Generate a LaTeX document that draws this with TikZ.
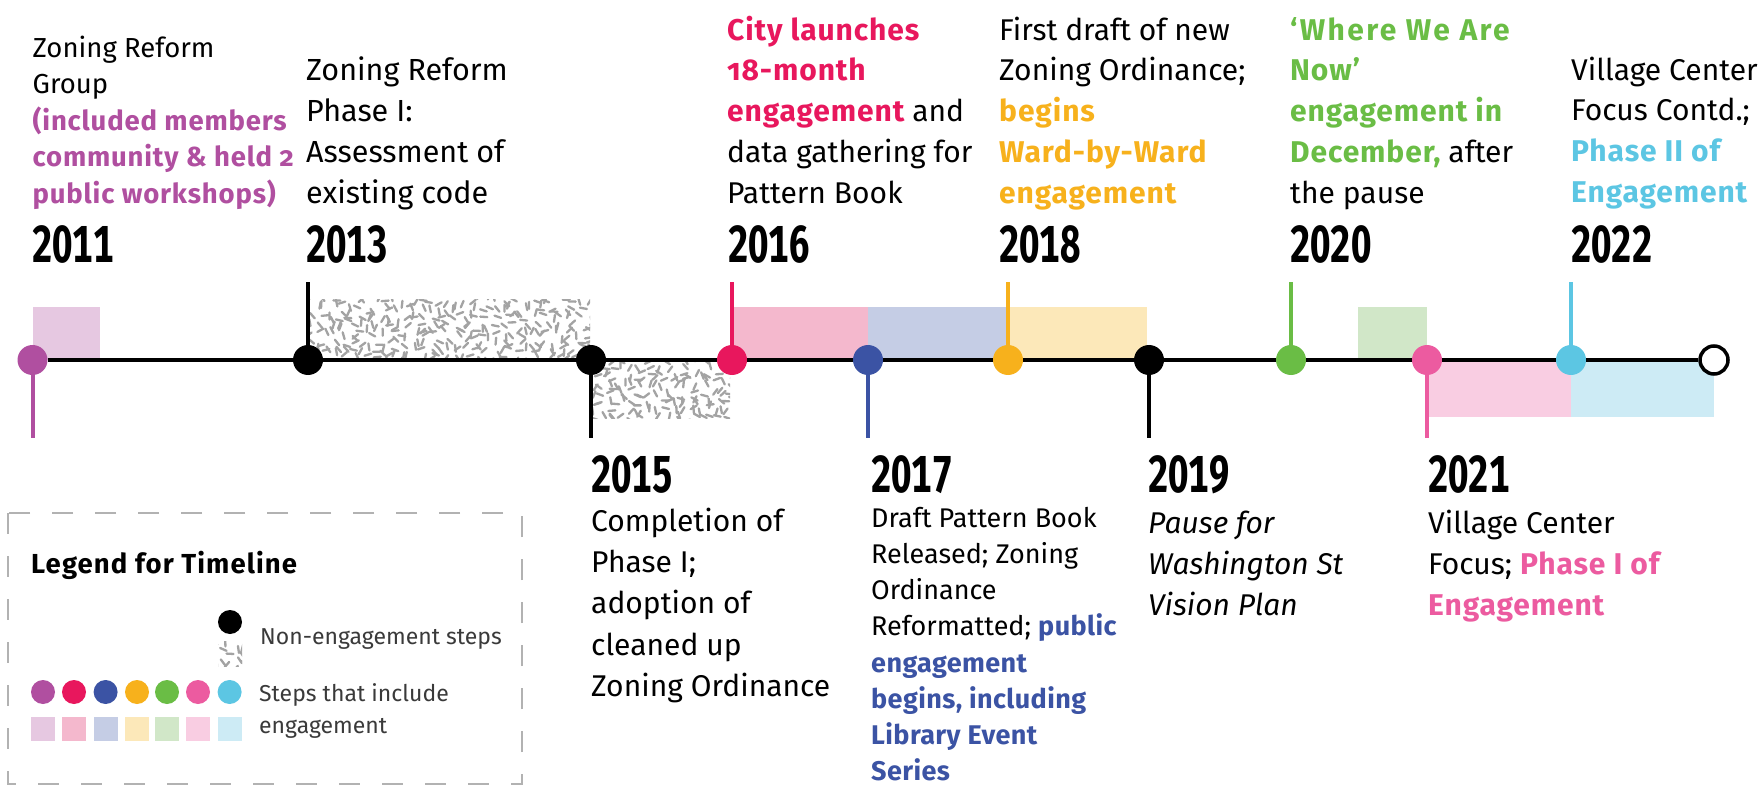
\documentclass[tikz,border=0pt]{standalone}
\usepackage{fontspec}
\usepackage{graphicx}
\setmainfont{Fira Sans}[Numbers=OldStyle]
\newfontfamily\yearfont{Fira Sans}[Numbers={Lining,Monospaced}]
\definecolor{cPurple}{HTML}{B04FA0}
\definecolor{cRed}{HTML}{E8175D}
\definecolor{cBlue}{HTML}{3B53A4}
\definecolor{cOrange}{HTML}{F7B11C}
\definecolor{cGreen}{HTML}{6ABD45}
\definecolor{cPink}{HTML}{EC5BA0}
\definecolor{cCyan}{HTML}{5CC6E3}
\definecolor{lPurple}{HTML}{E6C8E1}
\definecolor{lRed}{HTML}{F4B8CD}
\definecolor{lBlue}{HTML}{C5CDE5}
\definecolor{lOrange}{HTML}{FCE8B9}
\definecolor{lGreen}{HTML}{D1E7C8}
\definecolor{lPink}{HTML}{F9CDE2}
\definecolor{lCyan}{HTML}{CDEBF5}
\definecolor{hatchgray}{HTML}{A3A3A3}
\definecolor{legtext}{HTML}{3A3A3A}
\newcommand\hl[3][3]{{\bfseries\addfontfeature{LetterSpace=#1}\color{#2}#3}}
\newcommand\yr[1]{\scalebox{0.7}[1]{\yearfont\bfseries\fontsize{52}{52}\selectfont #1}}
\newcommand\st{\rule{0pt}{28pt}}
\newcommand\hatchrect[4]{%
  \begin{scope}
    \clip (#1,#2) rectangle (#3,#4);
    \pgfmathsetmacro\hxb{#1+8}%
    \pgfmathsetmacro\hyb{#2+8}%
    \foreach \hx in {#1,\hxb,...,#3}{%
      \foreach \hy in {#2,\hyb,...,#4}{%
        \pgfmathsetmacro\ha{rnd*360}%
        \pgfmathsetmacro\ox{\hx+rnd*7-2}%
        \pgfmathsetmacro\oy{\hy+rnd*7-2}%
        \draw[hatchline] (\ox,\oy) -- ++(\ha:7);
      }%
    }%
  \end{scope}%
}
\begin{document}
\begin{tikzpicture}[x=1pt,y=-1pt,
  dot/.style={circle,inner sep=0pt,minimum size=30pt},
  enddot/.style={circle,inner sep=0pt,minimum size=28pt,draw=black,line width=3.5pt,fill=white},
  tl/.style={line width=3.5pt,black},
  stem/.style={line width=4pt},
  txt/.style={anchor=north west,inner sep=0pt,align=left},
  yearlbl/.style={anchor=base west,inner sep=0pt},
  hatchline/.style={line width=2.3pt,hatchgray,line cap=round},
  legbox/.style={draw=gray!60,line width=1.2pt,dash pattern=on 21pt off 22pt},
  legtxt/.style={anchor=base west,inner sep=0pt,text=legtext,font=\fontsize{23}{23}\selectfont},
  legdot/.style={circle,inner sep=0pt,minimum size=24pt},
  legsq/.style={inner sep=0pt,minimum size=24pt}]
\pgfmathsetseed{7}
\useasboundingbox (0,0) rectangle (1762,786);
\fill[white] (0,0) rectangle (1762,786);
% bars
\fill[lPurple] (32.5,307) rectangle (100,360);
\hatchrect{310}{300}{590}{358}
\hatchrect{593}{362}{730}{418}
\fill[lRed] (732,307) rectangle (868,360);
\fill[lBlue] (868,307) rectangle (1008,360);
\fill[lOrange] (1008,307) rectangle (1147,360);
\fill[lGreen] (1358,307) rectangle (1427,360);
\fill[lPink] (1427,360) rectangle (1571,417);
\fill[lCyan] (1571,360) rectangle (1714,417);
% circles
\node[dot,fill=cPurple] (c2011) at (32.5,360) {};
\node[dot,fill=black] (c2013) at (308,360) {};
\node[dot,fill=black] (c2015) at (591,360) {};
\node[dot,fill=cRed] (c2016) at (732,360) {};
\node[dot,fill=cBlue] (c2017) at (868,360) {};
\node[dot,fill=cOrange] (c2018) at (1008,360) {};
\node[dot,fill=black] (c2019) at (1149,360) {};
\node[dot,fill=cGreen] (c2020) at (1291,360) {};
\node[dot,fill=cPink] (c2021) at (1427,360) {};
\node[dot,fill=cCyan] (c2022) at (1571,360) {};
\node[enddot] (cEnd) at (1714,360) {};
% stem ends
\coordinate (s2011) at (32.5,438);
\coordinate (s2013) at (308,282);
\coordinate (s2015) at (591,438);
\coordinate (s2016) at (732,282);
\coordinate (s2017) at (868,438);
\coordinate (s2018) at (1008,282);
\coordinate (s2019) at (1149,438);
\coordinate (s2020) at (1291,282);
\coordinate (s2021) at (1427,438);
\coordinate (s2022) at (1571,282);
% timeline
\draw[tl] (c2011) -- (c2013) -- (c2015) -- (c2016) -- (c2017) -- (c2018) -- (c2019) -- (c2020) -- (c2021) -- (c2022) -- (cEnd);
% stems
\draw[stem,cPurple] (c2011) -- (s2011);
\draw[stem,black] (c2013) -- (s2013);
\draw[stem,black] (c2015) -- (s2015);
\draw[stem,cRed] (c2016) -- (s2016);
\draw[stem,cBlue] (c2017) -- (s2017);
\draw[stem,cOrange] (c2018) -- (s2018);
\draw[stem,black] (c2019) -- (s2019);
\draw[stem,cGreen] (c2020) -- (s2020);
\draw[stem,cPink] (c2021) -- (s2021);
\draw[stem,cCyan] (c2022) -- (s2022);
% years
\node[yearlbl] (y2011) at (32,263) {\yr{2011}};
\node[yearlbl] (y2013) at (306,263) {\yr{2013}};
\node[yearlbl] (y2016) at (728,263) {\yr{2016}};
\node[yearlbl] (y2018) at (999,263) {\yr{2018}};
\node[yearlbl] (y2020) at (1290,263) {\yr{2020}};
\node[yearlbl] (y2022) at (1571,263) {\yr{2022}};
\node[yearlbl] (y2015) at (591,492) {\yr{2015}};
\node[yearlbl] (y2017) at (871,492) {\yr{2017}};
\node[yearlbl] (y2019) at (1148,492) {\yr{2019}};
\node[yearlbl] (y2021) at (1428,492) {\yr{2021}};
% texts above
\node[txt,font=\fontsize{27.5}{36.5}\selectfont] (t2011) at (32.5,29)
  {\st Zoning Reform\\Group\\\hl{cPurple}{(included members}\\\hl{cPurple}{community \& held 2}\\\hl{cPurple}{public workshops)}};
\node[txt,font=\fontsize{30.5}{41}\selectfont] (t2013) at (306,52)
  {\st Zoning Reform\\Phase I:\\Assessment of\\existing code};
\node[txt,font=\fontsize{30}{40.75}\selectfont] (t2016) at (727,12)
  {\st\hl{cRed}{City launches}\\\hl{cRed}{18-month}\\\hl{cRed}{engagement} and\\data gathering for\\Pattern Book};
\node[txt,font=\fontsize{30}{40.75}\selectfont] (t2018) at (999,12)
  {\st First draft of new\\Zoning Ordinance;\\\hl{cOrange}{begins}\\\hl{cOrange}{Ward-by-Ward}\\\hl{cOrange}{engagement}};
\node[txt,font=\fontsize{30}{40.75}\selectfont] (t2020) at (1290,12)
  {\st\hl[8]{cGreen}{‘Where We Are}\\\hl{cGreen}{Now’}\\\hl{cGreen}{engagement in}\\\hl{cGreen}{December,} after\\the pause};
\node[txt,font=\fontsize{30}{40.7}\selectfont] (t2022) at (1571,52)
  {\st Village Center\\Focus Contd.;\\\hl{cCyan}{Phase II of}\\\hl{cCyan}{Engagement}};
% texts below
\node[txt,font=\fontsize{30}{41.3}\selectfont] (t2015) at (591,503)
  {\st Completion of\\Phase I;\\adoption of\\cleaned up\\Zoning Ordinance};
\node[txt,font=\fontsize{27}{36.2}\selectfont] (t2017) at (871,499)
  {\st Draft Pattern Book\\Released; Zoning\\Ordinance\\Reformatted; \hl[1.5]{cBlue}{public}\\\hl[1.5]{cBlue}{engagement}\\\hl[1.5]{cBlue}{begins, including}\\\hl[1.5]{cBlue}{Library Event}\\\hl[1.5]{cBlue}{Series}};
\node[txt,font=\itshape\fontsize{30}{41}\selectfont] (t2019) at (1148,505)
  {\st Pause for\\Washington St\\Vision Plan};
\node[txt,font=\fontsize{30}{41}\selectfont] (t2021) at (1428,505)
  {\st Village Center\\Focus; \hl{cPink}{Phase I of}\\\hl{cPink}{Engagement}};
% legend
\draw[legbox] (8,513) rectangle (522,784);
\node[anchor=base west,inner sep=0pt,font=\fontsize{27.5}{27.5}\selectfont] (lgTitle) at (31,573) {\hl[4]{black}{Legend for Timeline}};
\node[legdot,fill=black] (lgBlack) at (230,622) {};
\hatchrect{218}{641}{242}{666}
\node[legtxt] (lgNon) at (260,644) {Non-engagement steps};
\node[legdot,fill=cPurple] (ld1) at (43,692) {};
\node[legdot,fill=cRed] (ld2) at (74,692) {};
\node[legdot,fill=cBlue] (ld3) at (105.6,692) {};
\node[legdot,fill=cOrange] (ld4) at (137,692) {};
\node[legdot,fill=cGreen] (ld5) at (167,692) {};
\node[legdot,fill=cPink] (ld6) at (198,692) {};
\node[legdot,fill=cCyan] (ld7) at (229.6,692) {};
\node[legsq,fill=lPurple] (lq1) at (43,729) {};
\node[legsq,fill=lRed] (lq2) at (74,729) {};
\node[legsq,fill=lBlue] (lq3) at (105.6,729) {};
\node[legsq,fill=lOrange] (lq4) at (137,729) {};
\node[legsq,fill=lGreen] (lq5) at (167,729) {};
\node[legsq,fill=lPink] (lq6) at (198,729) {};
\node[legsq,fill=lCyan] (lq7) at (229.6,729) {};
\node[legtxt] (lgSteps) at (259,701) {Steps that include};
\node[legtxt] (lgEng) at (259,733) {engagement};
\end{tikzpicture}
\end{document}
